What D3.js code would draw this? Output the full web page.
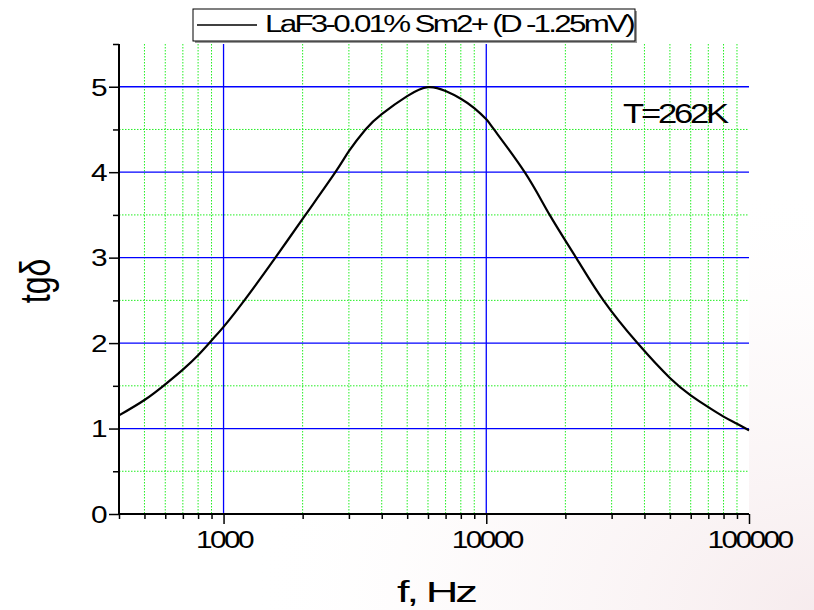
<!DOCTYPE html>
<html>
<head>
<meta charset="utf-8">
<script src="https://cdn.jsdelivr.net/npm/d3@7"></script>
<style>
  html, body { margin: 0; padding: 0; background: #fff; }
  svg { display: block; font-family: Arial, "Liberation Sans", sans-serif; }
</style>
</head>
<body>
<div id="chart"></div>
<script>
// frequency, Hz
var freq = [400, 500, 600, 700, 800, 900, 1000, 1200, 1575, 2050, 2665, 3000, 3470, 4000,
  5000, 6000, 7000, 8000, 9000, 10000, 10700, 14000, 17430, 21970, 27920,
  37620, 50000, 60000, 70000, 80000, 90000, 100000];
// tg delta
var tgd = [1.154, 1.334, 1.518, 1.69, 1.858, 2.03, 2.19, 2.5, 3.0, 3.5, 4.0, 4.245, 4.5, 4.68,
  4.89, 4.995, 4.95, 4.86, 4.75, 4.62, 4.5, 4.0, 3.5, 3.0, 2.5,
  2.0, 1.592, 1.389, 1.25, 1.14, 1.056, 0.978];

var yMajor = [0, 1, 2, 3, 4, 5];
var yMinor = [0.5, 1.5, 2.5, 3.5, 4.5, 5.5];
var xMajor = [1000, 10000, 100000];
var legendLabel = "LaF3-0.01% Sm2+ (D -1.25mV)";
var note = "T=262K";

var W = 814, H = 610;
var margin = {left: 119, right: 65, top: 44, bottom: 96};
var w = W - margin.left - margin.right;
var h = H - margin.top - margin.bottom;

var x = d3.scaleLog().domain([400, 100000]).range([0, w]);
var y = d3.scaleLinear().domain([0, 5.5]).range([h, 0]);

var xMinor = x.ticks().filter(function(d) { return xMajor.indexOf(d) < 0; });

var svg = d3.select("#chart").append("svg")
  .attr("width", W).attr("height", H);

// faint background texture at bottom/right
var defs = svg.append("defs");
var rg = defs.append("radialGradient").attr("id", "bg")
  .attr("cx", "100%").attr("cy", "100%").attr("r", "70%");
rg.append("stop").attr("offset", "0%").attr("stop-color", "#ecd4d8").attr("stop-opacity", 0.45);
rg.append("stop").attr("offset", "60%").attr("stop-color", "#f4e6e8").attr("stop-opacity", 0.2);
rg.append("stop").attr("offset", "100%").attr("stop-color", "#fff").attr("stop-opacity", 0);
svg.append("rect").attr("width", W).attr("height", H).attr("fill", "url(#bg)");

var g = svg.append("g")
  .attr("transform", "translate(" + margin.left + "," + margin.top + ")");

g.append("rect").attr("width", w).attr("height", h).attr("fill", "#fff");

// minor grid
g.selectAll(".gx").data(xMinor).enter().append("line")
  .attr("x1", x).attr("x2", x).attr("y1", 0).attr("y2", h)
  .attr("stroke", "#22ee22").attr("stroke-width", 1).attr("stroke-dasharray", "1.5,1.5");
g.selectAll(".gy").data(yMinor.filter(function(d) { return d < 5.5; })).enter().append("line")
  .attr("x1", 0).attr("x2", w).attr("y1", y).attr("y2", y)
  .attr("stroke", "#22ee22").attr("stroke-width", 1).attr("stroke-dasharray", "1.5,1.5");

// major grid
g.selectAll(".mx").data(xMajor.filter(function(d) { return d < 100000; })).enter().append("line")
  .attr("x1", x).attr("x2", x).attr("y1", 0).attr("y2", h)
  .attr("stroke", "#0000ff").attr("stroke-width", 1.3);
g.selectAll(".my").data(yMajor.filter(function(d) { return d > 0; })).enter().append("line")
  .attr("x1", 0).attr("x2", w).attr("y1", y).attr("y2", y)
  .attr("stroke", "#0000ff").attr("stroke-width", 1.3);

// curve
var line = d3.line()
  .x(function(d, i) { return x(freq[i]); })
  .y(function(d) { return y(d); })
  .curve(d3.curveNatural);
g.append("path").datum(tgd)
  .attr("d", line)
  .attr("fill", "none").attr("stroke", "#000").attr("stroke-width", 2.2);

// axes
var yAx = g.append("g")
  .call(d3.axisLeft(y).tickValues(yMajor).tickSize(10).tickPadding(4).tickFormat(d3.format("d")));
var yAxMinor = g.append("g")
  .call(d3.axisLeft(y).tickValues(yMinor).tickSize(6).tickFormat(""));

var xAx = g.append("g").attr("transform", "translate(0," + h + ")")
  .call(d3.axisBottom(x).tickValues(xMajor).tickSize(10).tickFormat(d3.format("d")));
var xAxMinor = g.append("g").attr("transform", "translate(0," + h + ")")
  .call(d3.axisBottom(x).tickValues(xMinor).tickSize(5).tickFormat(""));

yAxMinor.select(".domain").remove();
xAxMinor.select(".domain").remove();
yAx.select(".domain").attr("d", "M0," + h + "V0").attr("stroke-width", 2);
xAx.select(".domain").attr("d", "M0,0H" + w).attr("stroke-width", 2);
g.selectAll(".tick line").attr("stroke", "#000").attr("stroke-width", 1.5);

function digits(d) { return String(d).length * 14; }

yAx.selectAll("text")
  .attr("font-size", 23).attr("font-family", "Arial, 'Liberation Sans', sans-serif")
  .attr("fill", "#000").attr("dy", "0.36em").attr("letter-spacing", -2)
  .attr("textLength", digits).attr("lengthAdjust", "spacingAndGlyphs");
xAx.selectAll("text")
  .attr("font-size", 23).attr("font-family", "Arial, 'Liberation Sans', sans-serif")
  .attr("fill", "#000").attr("y", 34).attr("dy", 0).attr("letter-spacing", -2)
  .attr("textLength", digits).attr("lengthAdjust", "spacingAndGlyphs");

// axis titles
svg.append("text")
  .attr("x", 397).attr("y", 602)
  .attr("font-size", 30).attr("letter-spacing", -2)
  .attr("textLength", 78).attr("lengthAdjust", "spacingAndGlyphs")
  .text("f, Hz");
svg.append("text")
  .attr("transform", "translate(50,281) scale(1.3,1) rotate(-90)")
  .attr("text-anchor", "middle").attr("font-size", 32)
  .text("tgδ");

// note
svg.append("text")
  .attr("x", 623).attr("y", 123)
  .attr("font-size", 27).attr("letter-spacing", -2.5)
  .attr("textLength", 103).attr("lengthAdjust", "spacingAndGlyphs")
  .text(note);

// legend
var lg = svg.append("g").attr("transform", "translate(193,9)");
lg.append("rect").attr("x", 2).attr("y", 2).attr("width", 442).attr("height", 32)
  .attr("fill", "#999");
lg.append("rect").attr("width", 442).attr("height", 32)
  .attr("fill", "#fff").attr("stroke", "#000").attr("stroke-width", 1);
lg.append("line").attr("x1", 4).attr("x2", 64).attr("y1", 16).attr("y2", 16)
  .attr("stroke", "#000").attr("stroke-width", 1.5);
lg.append("text").attr("x", 72).attr("y", 23)
  .attr("font-size", 23).attr("letter-spacing", -2)
  .attr("textLength", 368).attr("lengthAdjust", "spacingAndGlyphs")
  .text(legendLabel);
</script>
</body>
</html>
